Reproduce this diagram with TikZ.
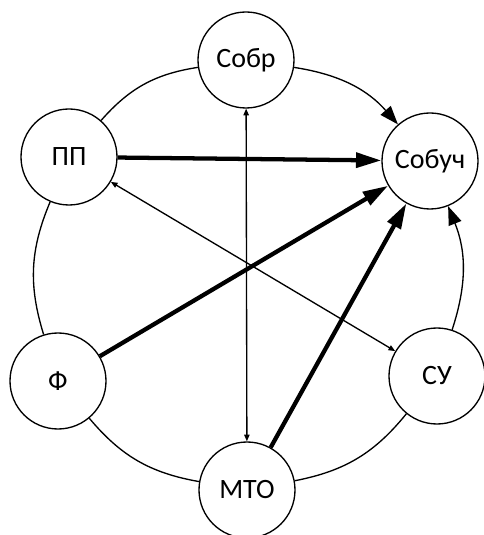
\documentclass[tikz,border=0pt]{standalone}
\usepackage{fontspec}
\setmainfont{Carlito}
\usetikzlibrary{arrows.meta}

\begin{document}
\begin{tikzpicture}[x=0.75pt, y=0.75pt,
	blok/.style={circle, draw, line width=1pt, fill=white, minimum size=72pt, inner sep=0pt, font=\fontsize{21}{25}\selectfont},
	tonk/.style={line width=1pt, {Triangle[length=5pt,width=4pt]}-{Triangle[length=5pt,width=4pt]}},
	tolst/.style={line width=3.2pt, -{Triangle[length=19pt,width=11pt]}},
	duga/.style={line width=1pt},
	dugastr/.style={line width=1pt, -{Triangle[length=14pt,width=10pt]}}]
			\useasboundingbox (0,0) rectangle (483,535);
			\node[blok] (sobr) at (246,475) {Собр};
			\node[blok] (sobuch) at (430,374) {Собуч};
			\node[blok] (pp) at (69,378) {ПП};
			\node[blok] (f) at (58,154) {Ф};
			\node[blok] (su) at (437,159) {СУ};
			\node[blok] (mto) at (247,45) {МТО};
			\draw[dugastr] (sobr) to[bend left=20] (sobuch);
			\draw[dugastr] (su) to[bend right=20] (sobuch);
			\draw[duga] (sobr) to[bend right=20] (pp);
			\draw[duga] (pp) to[bend right=20] (f);
			\draw[duga] (f) to[bend right=20] (mto);
			\draw[duga] (mto) to[bend right=20] (su);
			\draw[tonk] (sobr) -- (mto);
			\draw[tonk] (pp) -- (su);
			\draw[tolst] (pp) -- (sobuch);
			\draw[tolst] (f) -- (sobuch);
			\draw[tolst] (mto) -- (sobuch);
			\end{tikzpicture}
\end{document}
